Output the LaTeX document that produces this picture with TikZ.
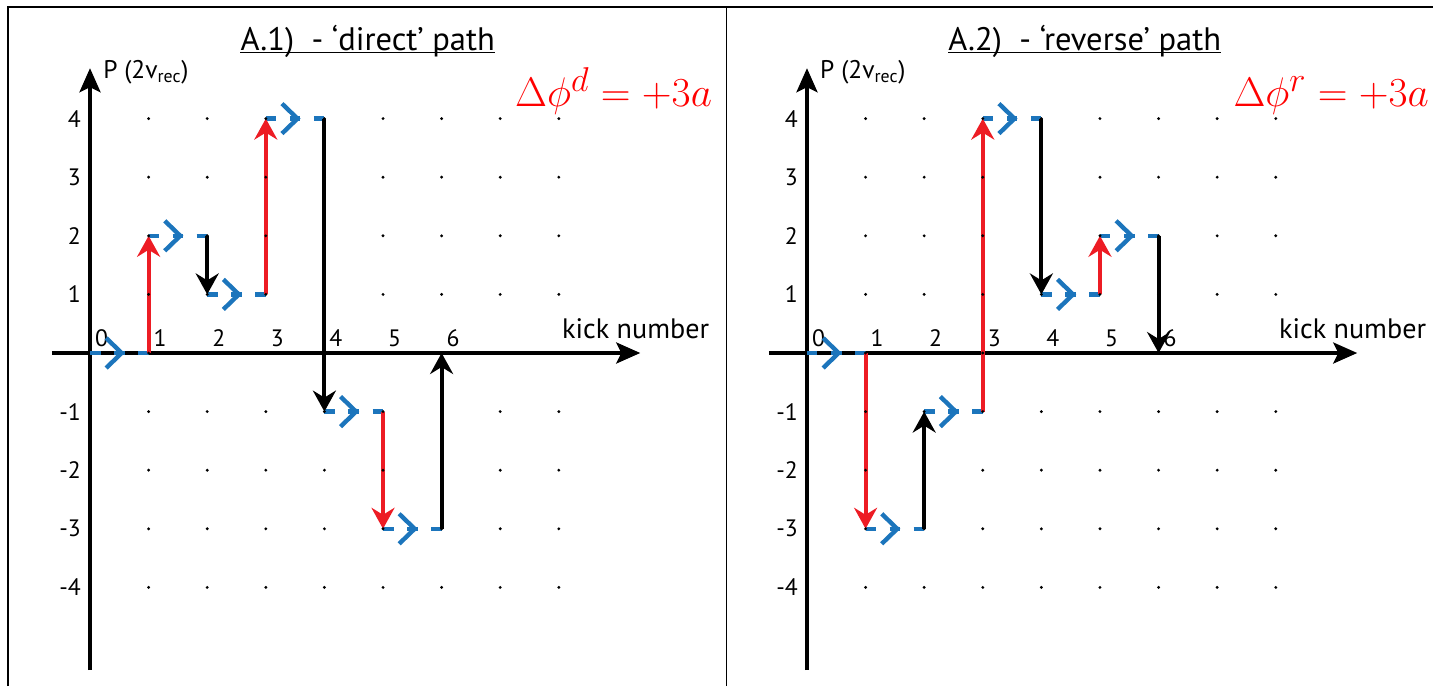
\documentclass[tikz,border=0pt]{standalone}
\usepackage{graphicx}
\usepackage{fontspec}
\setmainfont{PT Sans}
\usepackage{tikz}
\usetikzlibrary{arrows.meta,decorations.markings}
\definecolor{kickred}{RGB}{237,28,36}
\definecolor{freeblue}{RGB}{28,117,188}
\definecolor{phasered}{RGB}{255,0,0}

\begin{document}
\begin{tikzpicture}[x=1.172cm,y=1.172cm,
  axisline/.style={line width=1.9pt,-{Stealth[length=0.48cm,width=0.42cm,inset=0.1cm]}},
  kick/.style={line width=2.2pt,-{Stealth[length=0.42cm,width=0.46cm,inset=0.14cm]}},
  freestep/.style={draw=freeblue,line width=2.5pt,dash pattern=on 0.21cm off 0.271cm,
    postaction={decorate,decoration={markings,mark=at position 0.54 with
      {\draw[freeblue,solid,line width=2.5pt] (-0.31cm,0.3cm)--(0,0)--(-0.31cm,-0.3cm);}}}},
  numlbl/.style={font=\fontsize{13.5}{15}\selectfont,inner sep=0pt},
  axlbl/.style={font=\fontsize{14.5}{17}\selectfont,inner sep=0pt}]
\useasboundingbox (-1.536,-5.683) rectangle (22.918,6.024);
% frame
\draw[line width=0.85pt] (-1.399,-5.683) -- (-1.399,5.904) -- (22.918,5.904);
\draw[line width=0.85pt] (10.862,-5.683) -- (10.862,5.904);
% the two panels
\foreach \sh/\nm/\ttl/\phs in {0/A/{A.1)\ \ - ‘direct’ path}/d,12.235/B/{A.2)\ \ - ‘reverse’ path}/r}{
 \begin{scope}[shift={(\sh,0)}]
  \node[font=\fontsize{18.5}{21}\selectfont,inner sep=0pt,anchor=base] (ttl\nm) at (4.74,5.17) {\ttl};
  \draw[line width=0.7pt] ([yshift=-0.05cm]ttl\nm.base west) -- ([yshift=-0.05cm]ttl\nm.base east);
  \draw[axisline] (-0.65,0) -- (9.39,0);
  \draw[axisline] (0,-5.41) -- (0,4.86);
  \node[axlbl,anchor=base west] (pax\nm) at (0.22,4.68) {P (2v\textsubscript{rec})};
  \node[axlbl,font=\fontsize{16}{18}\selectfont,anchor=base west] (kax\nm) at (8.05,0.24) {kick number};
  \node[text=phasered,anchor=base east,inner sep=0pt,font=\fontsize{24.88}{28}\selectfont] (phase\nm) at (10.62,4.2) {\scalebox{0.945}{$\Delta\phi^{\phs}=+3a$}};
  \foreach \k in {0,...,6}
    \node[numlbl,anchor=base west] (xl\nm\k) at (\k+0.08,0.107) {\k};
  \foreach \j in {-4,...,-1,1,2,3,4}
    \node[numlbl,anchor=east] (yl\nm\j) at (-0.15,\j) {\j};
 \end{scope}
}
% 'direct' path
\foreach \u/\v [count=\i from 0] in {0/0,1/0,1/2,2/2,2/1,3/1,3/4,4/4,4/-1,5/-1,5/-3,6/-3,6/0}
  \coordinate (a\i) at (\u,\v);
% 'reverse' path
\foreach \u/\v [count=\i from 0] in {0/0,1/0,1/-3,2/-3,2/-1,3/-1,3/4,4/4,4/1,5/1,5/2,6/2,6/0}
  \coordinate (b\i) at (\u+12.235,\v);
\foreach \p in {a,b}{
  \foreach \i in {0,2,...,10}{
    \pgfmathtruncatemacro{\j}{\i+1}
    \draw[freestep] (\p\i) -- (\p\j);
  }
  \foreach \i/\c in {1/kickred,3/black,5/kickred,7/black,9/kickred,11/black}{
    \pgfmathtruncatemacro{\j}{\i+1}
    \draw[kick,\c] (\p\i) -- (\p\j);
  }
}
% grid dots
\foreach \sh in {0,12.235}
  \foreach \k in {1,...,8}
    \foreach \j in {-4,...,4}
      \fill (\sh+\k,\j) circle[radius=0.032cm];
\end{tikzpicture}
\end{document}
